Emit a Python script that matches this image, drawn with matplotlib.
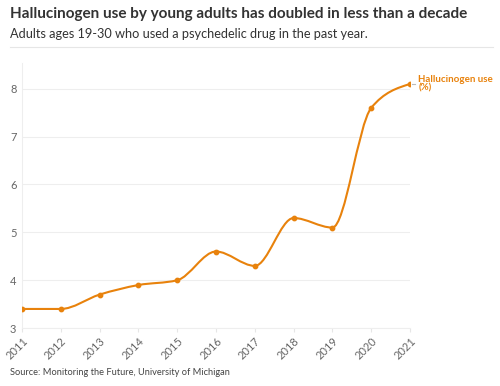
import matplotlib.pyplot as plt
from matplotlib.path import Path
from matplotlib.patches import PathPatch
import numpy as np

plt.rcParams['font.family'] = ['Lato', 'DejaVu Sans']

years = [2011, 2012, 2013, 2014, 2015, 2016, 2017, 2018, 2019, 2020, 2021]
use_pct = [3.4, 3.4, 3.7, 3.9, 4.0, 4.6, 4.3, 5.3, 5.1, 7.6, 8.1]
yticks = [3, 4, 5, 6, 7, 8]

orange = '#e8820c'


def monotone_path(x, y):
    # d3 curveMonotoneX style bezier path
    x = np.asarray(x, float)
    y = np.asarray(y, float)
    n = len(x)
    h = np.diff(x)
    s = np.diff(y) / h
    t = np.zeros(n)
    for i in range(1, n - 1):
        if s[i - 1] * s[i] <= 0:
            t[i] = 0
        else:
            p = (s[i - 1] * h[i] + s[i] * h[i - 1]) / (h[i - 1] + h[i])
            t[i] = (np.sign(s[i - 1]) + np.sign(s[i])) * min(abs(s[i - 1]), abs(s[i]), 0.5 * abs(p))
    t[0] = (3 * s[0] - t[1]) / 2 if n > 2 else s[0]
    t[-1] = (3 * s[-1] - t[-2]) / 2 if n > 2 else s[-1]
    verts = [(x[0], y[0])]
    codes = [Path.MOVETO]
    for i in range(n - 1):
        dx = h[i] / 3
        verts += [(x[i] + dx, y[i] + dx * t[i]),
                  (x[i + 1] - dx, y[i + 1] - dx * t[i + 1]),
                  (x[i + 1], y[i + 1])]
        codes += [Path.CURVE4] * 3
    return Path(verts, codes)


fig = plt.figure(figsize=(5, 3.86), dpi=100)
ax = fig.add_axes([0.044, 0.150, 0.776, 0.687])

ax.add_patch(PathPatch(monotone_path(years, use_pct), fill=False,
                       edgecolor=orange, lw=1.5, zorder=3))
ax.scatter(years, use_pct, s=10, color=orange, zorder=4)

ax.set_xlim(2011, 2021)
ax.set_ylim(3, 8.54)
ax.set_xticks(years)
ax.set_xticklabels([str(v) for v in years], rotation=45, ha='right',
                   rotation_mode='anchor', fontsize=8, color='#666666')
ax.set_yticks(yticks)
ax.set_yticklabels([str(v) for v in yticks], fontsize=8, color='#666666')
ax.tick_params(axis='y', length=0, pad=4)
ax.tick_params(axis='x', length=3, color='#e6e6e6', pad=2)
ax.grid(axis='y', color='#eeeeee', lw=0.8)
ax.set_axisbelow(True)
for side in ['top', 'right']:
    ax.spines[side].set_visible(False)
ax.spines['left'].set_color('#eeeeee')
ax.spines['bottom'].set_color('#eeeeee')

# series label
ax.annotate('Hallucinogen use\n(%)', xy=(years[-1], use_pct[-1]),
            xytext=(6, 0), textcoords='offset points',
            fontsize=7, fontweight='bold', color=orange,
            va='center', ha='left', linespacing=0.85,
            annotation_clip=False)
ax.annotate('', xy=(years[-1], use_pct[-1]), xytext=(years[-1], use_pct[-1]))
ax.plot([2021.05, 2021.12], [use_pct[-1], use_pct[-1]], color='#bbbbbb',
        lw=0.8, clip_on=False)

fig.text(0.02, 0.963, 'Hallucinogen use by young adults has doubled in less than a decade',
         fontsize=11, fontweight='bold', color='#333333', va='center')
fig.text(0.02, 0.913, 'Adults ages 19-30 who used a psychedelic drug in the past year.',
         fontsize=9.2, color='#333333', va='center')
fig.add_artist(plt.Line2D([0.02, 0.986], [0.877, 0.877], color='#e6e6e6', lw=0.8))
fig.text(0.02, 0.034, 'Source: Monitoring the Future, University of Michigan',
         fontsize=6.7, color='#444444', va='center')

fig.savefig('out.png', dpi=100)
